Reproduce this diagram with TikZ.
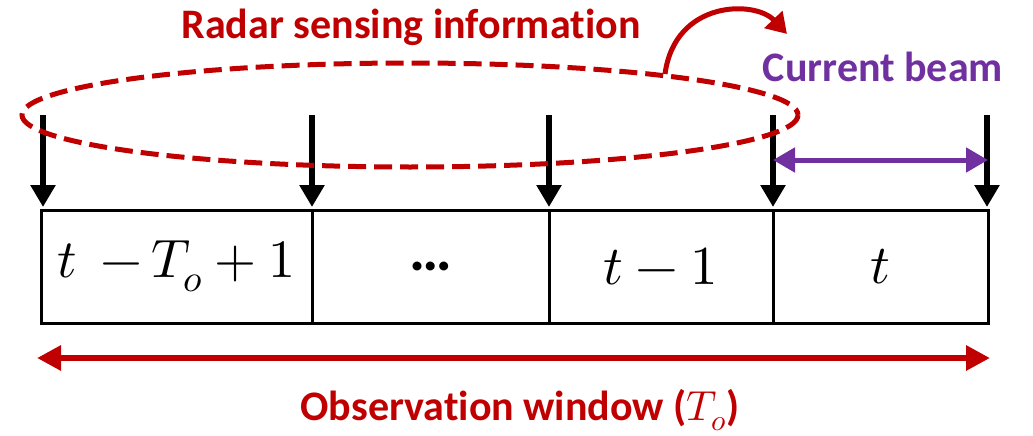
\documentclass[tikz,border=0pt]{standalone}
\usepackage{fontspec}
\usepackage{unicode-math}
\setmainfont{Carlito}[RawFeature={-liga;-calt;-dlig;-clig}]
\setmathfont{Latin Modern Math}
\usetikzlibrary{arrows.meta}
\definecolor{darkred}{HTML}{C00000}
\definecolor{purp}{HTML}{7030A0}
\tikzset{
  cell/.style={draw=black, line width=3pt, minimum height=113pt, inner sep=0pt, outer sep=0pt, font=\fontsize{55}{60}\selectfont},
  downarrow/.style={line width=6pt, -{Triangle[width=24pt,length=22pt]}},
  lbl/.style={font=\fontsize{42}{48}\selectfont\bfseries, inner sep=0pt},
}
\begin{document}
\begin{tikzpicture}[x=1pt,y=-1pt]
\useasboundingbox (0,0) rectangle (1033,436);
% cells
\node[cell, minimum width=271pt, font=\fontsize{54}{60}\selectfont] (c1) at (176.5,266.5) {$t\;\,{-}\,T_o+1$};
\node[cell, minimum width=237pt] (c2) at (430.5,266.5) {\fontsize{60}{64}\selectfont\bfseries …};
\node[cell, minimum width=224pt] (c3) at (661,266.5) {$t-1$};
\node[cell, minimum width=215pt] (c4) at (880.5,266.5) {$t$};
% arrow start points
\coordinate (s1) at (43,115);
\coordinate (s2) at (312,115);
\coordinate (s3) at (549,115);
\coordinate (s4) at (773,115);
\coordinate (s5) at (987,115);
\coordinate (e1) at (43,207);
\coordinate (e2) at (312,207);
\coordinate (e3) at (549,207);
\coordinate (e4) at (773,207);
\coordinate (e5) at (987,207);
\foreach \i in {1,...,5} \draw[downarrow] (s\i) -- (e\i);
% current beam
\coordinate (b1) at (773,160);
\coordinate (b2) at (988,160);
\draw[purp, line width=5pt, {Triangle[width=24pt,length=22pt]}-{Triangle[width=24pt,length=22pt]}] (b1) -- (b2);
\node[lbl, text=purp] (cb) at (883,67) {Current beam};
% ellipse
\draw[darkred, line width=5pt, dash pattern=on 18pt off 8pt] (410,115) ellipse (388 and 52);
\node[lbl, text=darkred] (rs) at (411,27) {Radar sensing informat\kern0pt ion};
% curved arrow
\coordinate (ca) at (665,74);
\coordinate (cb2) at (787,34);
\draw[darkred, line width=5pt, -{Triangle[width=24pt,length=20pt]}] (ca) .. controls (675,0) and (755,0) .. (cb2);
% observation window
\coordinate (o1) at (37,358);
\coordinate (o2) at (990,358);
\draw[darkred, line width=6pt, {Triangle[width=24pt,length=24pt]}-{Triangle[width=24pt,length=24pt]}] (o1) -- (o2);
\node[lbl, text=darkred] (ow) at (520,410) {Observat\kern0pt ion window ($T_o$)};
\end{tikzpicture}
\end{document}
